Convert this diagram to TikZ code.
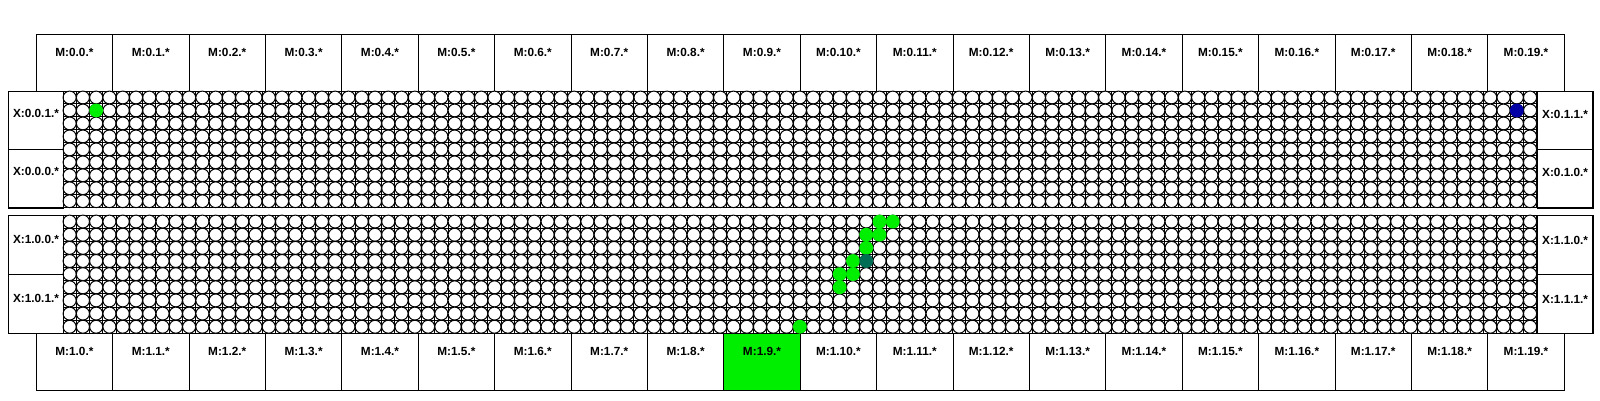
\documentclass[tikz,border=0pt]{standalone}
\usepackage{fontspec}
\setmainfont{Liberation Sans}
\definecolor{lgreen}{RGB}{0,238,0}
\definecolor{dteal}{RGB}{0,110,85}
\definecolor{dblue}{RGB}{0,0,165}
\begin{document}
\begin{tikzpicture}[x=1pt,y=-1pt,
  mbox/.style={draw=black, line width=1pt, inner sep=0pt, anchor=north west,
    minimum width=76.4pt, minimum height=56.7pt},
  xbox/.style={draw=black, line width=1pt, inner sep=0pt, anchor=north west,
    minimum width=54.4pt, minimum height=58.35pt},
  chipbox/.style={draw=black, line width=1pt, fill=white},
  lbl/.style={font=\fontsize{11.8}{13}\selectfont\bfseries, inner sep=0pt, anchor=center},
  gridl/.style={draw=black, line width=1pt},
  cellc/.style={draw=black, line width=1pt, fill=white}]
\useasboundingbox (0,0) rectangle (1600,400);
\fill[white] (0,0) rectangle (1600,400);
% memory boxes
\foreach \i in {0,...,19} {
  \node[mbox, label={[lbl,yshift=-18pt]north:{M:0.\i.*}}] (mt\i) at ({35.7+76.4*\i},34.3) {};
}
\foreach \i in {0,...,8,10,11,...,19} {
  \node[mbox, label={[lbl,yshift=-18pt]north:{M:1.\i.*}}] (mb\i) at ({35.7+76.4*\i},333.3) {};
}
\node[mbox, fill=lgreen, label={[lbl,yshift=-18pt]north:{M:1.9.*}}] (mb9) at ({35.7+76.4*9},333.3) {};
% chips
\def\xo{63.0}
\def\xe{1536.7}
\def\cw{13.2766}
\foreach \yo/\ye/\cid in {91/207.7/0, 215/333.3/1} {
  \pgfmathsetmacro\ch{(\ye-\yo)/9}
  \pgfmathsetmacro\ry{\ch/2-0.1}
  \draw[chipbox] (8.3,\yo) rectangle (1592.5,\ye);
  \foreach \k in {0,...,111} {
    \draw[gridl] ({\xo+\k*\cw},\yo) -- ({\xo+\k*\cw},\ye);
  }
  \foreach \r in {0,...,9} {
    \draw[gridl] (\xo,{\yo+\r*\ch}) -- (\xe,{\yo+\r*\ch});
  }
  \foreach \c in {0,...,110} {
    \foreach \r in {0,...,8} {
      \draw[cellc] ({\xo+(\c+0.5)*\cw},{\yo+(\r+0.5)*\ch}) ellipse [x radius=6.55pt, y radius=\ry pt];
    }
  }
}
% port boxes
\node[xbox, label={[lbl,yshift=-22.5pt]north:{X:0.0.1.*}}] (xl01) at (8.3,91) {};
\node[xbox, label={[lbl,yshift=-22.5pt]north:{X:0.0.0.*}}] (xl00) at (8.3,149.35) {};
\node[xbox, minimum width=55.8pt, label={[lbl,yshift=-23pt]north:{X:0.1.1.*}}] (xr11) at (1536.7,91) {};
\node[xbox, minimum width=55.8pt, label={[lbl,yshift=-23pt]north:{X:0.1.0.*}}] (xr10) at (1536.7,149.35) {};
\node[xbox, minimum height=59.15pt, label={[lbl,yshift=-24pt]north:{X:1.0.0.*}}] (xl10) at (8.3,215) {};
\node[xbox, minimum height=59.15pt, label={[lbl,yshift=-24pt]north:{X:1.0.1.*}}] (xl11) at (8.3,274.15) {};
\node[xbox, minimum width=55.8pt, minimum height=59.15pt, label={[lbl,yshift=-25pt]north:{X:1.1.0.*}}] (xr10b) at (1536.7,215) {};
\node[xbox, minimum width=55.8pt, minimum height=59.15pt, label={[lbl,yshift=-25pt]north:{X:1.1.1.*}}] (xr11b) at (1536.7,274.15) {};
% coloured cells, top chip (row height 12.967)
\fill[lgreen] ({\xo+2.5*\cw},{91+1.5*12.967}) circle [radius=6.9pt];
\fill[dblue] ({\xo+109.5*\cw},{91+1.5*12.967}) circle [radius=6.9pt];
% coloured cells, bottom chip (row height 13.144)
\foreach \c/\r in {61/0, 62/0, 60/1, 61/1, 60/2, 59/3, 58/4, 59/4, 58/5, 55/8} {
  \fill[lgreen] ({\xo+(\c+0.5)*\cw},{215+(\r+0.5)*13.144}) circle [radius=6.9pt];
}
\fill[dteal] ({\xo+60.5*\cw},{215+3.5*13.144}) circle [radius=6.9pt];
\end{tikzpicture}
\end{document}
